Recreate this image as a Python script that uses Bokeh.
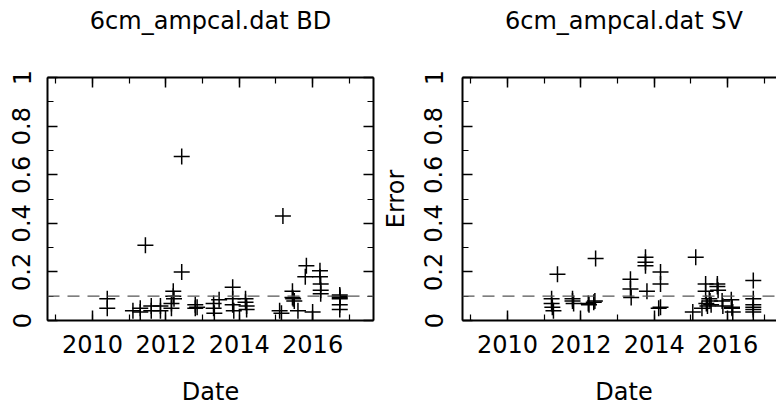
from bokeh.plotting import figure
from bokeh.models import (LinearAxis, SingleIntervalTicker, Span, Range1d,
                          CustomLabelingPolicy)
from bokeh.layouts import row
from bokeh.embed import file_html
from bokeh.resources import INLINE

# ---- data ----
bd_year = [2010.40, 2010.40, 2011.10, 2011.30, 2011.30, 2011.44, 2011.60, 2011.60,
           2011.85, 2011.85, 2012.15, 2012.15, 2012.20, 2012.20, 2012.22, 2012.43,
           2012.43, 2012.80, 2012.80, 2012.85, 2013.30, 2013.30, 2013.32, 2013.45,
           2013.82, 2013.82, 2013.82, 2013.85, 2014.17, 2014.17, 2014.20, 2014.20,
           2015.10, 2015.15, 2015.19, 2015.45, 2015.45, 2015.47, 2015.50, 2015.60,
           2015.83, 2015.80, 2016.00, 2016.20, 2016.20, 2016.22, 2016.22, 2016.22,
           2016.74, 2016.74, 2016.74, 2016.74, 2016.74, 2016.74]
bd_err = [0.090, 0.050, 0.040, 0.050, 0.035, 0.310, 0.060, 0.040,
          0.060, 0.040, 0.070, 0.050, 0.120, 0.100, 0.090, 0.675,
          0.200, 0.065, 0.050, 0.055, 0.070, 0.050, 0.030, 0.085,
          0.137, 0.090, 0.065, 0.040, 0.090, 0.075, 0.060, 0.045,
          0.040, 0.030, 0.430, 0.120, 0.095, 0.090, 0.080, 0.040,
          0.225, 0.180, 0.035, 0.205, 0.180, 0.150, 0.125, 0.110,
          0.105, 0.100, 0.095, 0.090, 0.065, 0.045]

sv_year = [2011.20, 2011.20, 2011.22, 2011.25, 2011.36, 2011.77, 2011.77, 2011.80,
           2012.20, 2012.22, 2012.35, 2012.38, 2012.40, 2013.35, 2013.35, 2013.37,
           2013.76, 2013.76, 2013.76, 2013.80, 2014.17, 2014.17, 2014.17, 2014.12,
           2015.05, 2015.13, 2015.30, 2015.40, 2015.40, 2015.42, 2015.45, 2015.50,
           2015.52, 2015.55, 2015.72, 2015.72, 2015.74, 2015.85, 2015.87, 2016.10,
           2016.12, 2016.12, 2016.14, 2016.70, 2016.70, 2016.70, 2016.70, 2016.70,
           2016.70]
sv_err = [0.090, 0.070, 0.055, 0.040, 0.190, 0.090, 0.080, 0.070,
          0.070, 0.065, 0.075, 0.080, 0.255, 0.170, 0.130, 0.095,
          0.260, 0.240, 0.225, 0.120, 0.200, 0.150, 0.055, 0.050,
          0.035, 0.260, 0.050, 0.150, 0.120, 0.070, 0.060, 0.090,
          0.080, 0.065, 0.150, 0.140, 0.125, 0.080, 0.060, 0.085,
          0.055, 0.050, 0.035, 0.165, 0.090, 0.065, 0.055, 0.045,
          0.035]

titles = ["6cm_ampcal.dat BD", "6cm_ampcal.dat SV"]
x_label = "Date"
y_label = "Error"
threshold = 0.1

FONT = "DejaVu Sans"
FS = "24px"
X0 = 2008.77
PX_PER_YEAR = 36.67
FRAME_H = 243

NO_LABELS = "for (const i of indices) { indices.unset(i) } return indices"


def style_axis(ax, labels=True):
    ax.axis_line_color = "black"
    ax.axis_line_width = 2
    ax.major_tick_in = 10
    ax.major_tick_out = 0
    ax.minor_tick_in = 6
    ax.minor_tick_out = 0
    ax.major_tick_line_color = "black"
    ax.major_tick_line_width = 1.5
    ax.minor_tick_line_color = "black"
    ax.minor_tick_line_width = 1.2
    ax.major_label_text_font = FONT
    ax.major_label_text_font_style = "normal"
    ax.axis_label_text_font = FONT
    ax.axis_label_text_font_style = "normal"
    ax.axis_label_text_font_size = FS
    ax.axis_label_text_color = "black"
    ax.major_label_text_color = "black"
    ax.major_label_text_font_size = FS
    if not labels:
        ax.major_label_policy = CustomLabelingPolicy(code=NO_LABELS)
        ax.major_label_text_font_size = "1px"
        ax.major_label_standoff = 0


def make_panel(title, years, errs, frame_w, border_l, border_r, ylab,
               right_axis, ytick_standoff, ylab_standoff):
    x_end = X0 + frame_w / PX_PER_YEAR
    p = figure(frame_width=frame_w, frame_height=FRAME_H, title=None,
               x_range=Range1d(X0, x_end), y_range=Range1d(0, 1),
               output_backend="svg", toolbar_location=None,
               x_axis_location=None, y_axis_location=None,
               min_border_left=border_l, min_border_right=border_r,
               min_border_top=77, min_border_bottom=88)
    p.grid.visible = False
    p.outline_line_color = None
    p.background_fill_color = "white"
    p.border_fill_color = "white"

    xt = SingleIntervalTicker(interval=2, num_minor_ticks=2)
    yt = SingleIntervalTicker(interval=0.2, num_minor_ticks=2)

    bx = LinearAxis(ticker=xt, axis_label=x_label)
    style_axis(bx)
    bx.major_label_standoff = 14
    bx.axis_label_standoff = 22
    p.add_layout(bx, "below")

    # top frame edge with inward ticks; its label carries the panel title
    tx = LinearAxis(ticker=xt, axis_label=title)
    style_axis(tx, labels=False)
    tx.axis_label_standoff = 39
    p.add_layout(tx, "above")

    ly = LinearAxis(ticker=yt, axis_label=ylab)
    style_axis(ly)
    ly.major_label_orientation = "vertical"
    ly.major_label_standoff = ytick_standoff
    ly.axis_label_standoff = ylab_standoff
    ly.major_label_overrides = {0: "0", 1: "1"}
    p.add_layout(ly, "left")

    if right_axis:
        ry = LinearAxis(ticker=yt)
        style_axis(ry, labels=False)
        p.add_layout(ry, "right")

    p.add_layout(Span(location=threshold, dimension="width", line_color="#555555",
                      line_width=1.2, line_dash="12 8"))

    p.scatter(years, errs, marker="cross", size=16, line_color="black",
              line_width=1.5)
    return p


p1 = make_panel(titles[0], bd_year, bd_err, 326, 47, 0, None, True, 17, 16)
p2 = make_panel(titles[1], sv_year, sv_err, 323, 73, 0, y_label, False, 20, 12)

layout = row(p1, p2)
open("out.html", "w").write(file_html(layout, INLINE))
